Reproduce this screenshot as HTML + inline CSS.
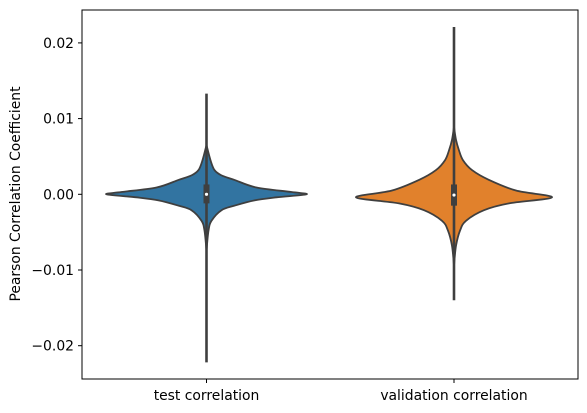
<!DOCTYPE html>
<html><head><meta charset="utf-8"><style>
body{margin:0;background:#fff;}
svg{display:block;font-family:"DejaVu Sans","Liberation Sans",sans-serif;}
</style></head><body>
<svg id="chart" width="587" height="413">
<g id="plot"></g>
<rect x="82" y="10" width="496" height="369" fill="none" stroke="#000" stroke-width="1"/>
<g id="yaxis"></g>
<g id="xaxis"></g>
<text x="20" y="194" transform="rotate(-90 20 194)" text-anchor="middle" font-size="13.9" fill="#000">Pearson Correlation Coefficient</text>
</svg>
<script>
const categories = ["test correlation", "validation correlation"];
const colors = ["#3274a1", "#e1812c"];
const yTicks = [0.02, 0.01, 0.0, -0.01, -0.02];
const yTickLabels = ["0.02", "0.01", "0.00", "\u22120.01", "\u22120.02"];
// density profile: values and relative half-widths
const testVals = [0.0065,0.0045,0.0032,0.0025,0.0019,0.0009,0.0003,0.0,-0.0004,-0.0008,-0.0015,-0.0021,-0.0035,-0.0048,-0.0074];
const testDens = [0,4,8,15,28,50,85,100,70,48,28,15,5,2,0];
const valVals = [0.0089,0.0072,0.0058,0.0045,0.0032,0.0019,0.0005,-0.0004,-0.0012,-0.0021,-0.0035,-0.0048,-0.0068,-0.0094];
const valDens = [0,2,5,9,18,35,62,98,55,30,12,6,2,0];
const mins = [-0.0222, -0.0140];
const maxs = [0.0133, 0.0221];
const q1s = [-0.0012, -0.0015];
const q3s = [0.0013, 0.0013];
const medians = [0.0, -0.0001];

const NS = "http://www.w3.org/2000/svg";
const yScale = v => 194.3 - v * 7570;
const xScale = i => 206.5 + i * 247.5;
const wScale = d => d * 1.0;

function mk(tag, attrs, parent){
  const e = document.createElementNS(NS, tag);
  for (const k in attrs) e.setAttribute(k, attrs[k]);
  parent.appendChild(e);
  return e;
}
function smooth(pts){
  let d = "M" + pts[0][0] + "," + pts[0][1];
  for (let i = 0; i < pts.length - 1; i++){
    const p0 = pts[Math.max(0,i-1)], p1 = pts[i], p2 = pts[i+1], p3 = pts[Math.min(pts.length-1,i+2)];
    const c1 = [p1[0]+(p2[0]-p0[0])/6, p1[1]+(p2[1]-p0[1])/6];
    const c2 = [p2[0]-(p3[0]-p1[0])/6, p2[1]-(p3[1]-p1[1])/6];
    d += " C" + c1[0] + "," + c1[1] + " " + c2[0] + "," + c2[1] + " " + p2[0] + "," + p2[1];
  }
  return d;
}
const plot = document.getElementById("plot");
const profiles = [[testVals, testDens], [valVals, valDens]];
profiles.forEach((p, i) => {
  const cx = xScale(i);
  const right = p[0].map((v, j) => [cx + wScale(p[1][j]), yScale(v)]);
  const left = p[0].map((v, j) => [cx - wScale(p[1][j]), yScale(v)]).reverse();
  const d = smooth(right) + " L" + smooth(left).slice(1) + " Z";
  const body = mk("path", {d: d, fill: colors[i], stroke: "#3f3f3f", "stroke-width": 1.8, "stroke-linejoin": "round"}, plot);
  
  
  const wh = mk("line", {x1: cx, x2: cx, y1: yScale(maxs[i]), y2: yScale(mins[i]), stroke: "#3f3f3f", "stroke-width": 2.6}, plot);
  
  
  const bx = mk("rect", {x: cx - 3, width: 6, y: yScale(q3s[i]), height: yScale(q1s[i]) - yScale(q3s[i]), fill: "#3f3f3f"}, plot);
  
  
  const md = mk("circle", {cx: cx, cy: yScale(medians[i]), r: 1.6, fill: "#fff"}, plot);
  
  
});
const ya = document.getElementById("yaxis");
yTicks.forEach((t, i) => {
  const y = yScale(t);
  const tk = mk("line", {x1: 78, x2: 82, y1: y, y2: y, stroke: "#000"}, ya);
  
  
  const tx = mk("text", {x: 74, y: y + 5, "text-anchor": "end", "font-size": 13.9, fill: "#000"}, ya);
  tx.textContent = yTickLabels[i];
  
  
});
const xa = document.getElementById("xaxis");
categories.forEach((c, i) => {
  const x = xScale(i);
  const tk = mk("line", {x1: x, x2: x, y1: 379, y2: 383, stroke: "#000"}, xa);
  
  
  const tx = mk("text", {x: x, y: 400, "text-anchor": "middle", "font-size": 13.9, fill: "#000"}, xa);
  tx.textContent = c;
  
  
});
</script>
</body></html>
